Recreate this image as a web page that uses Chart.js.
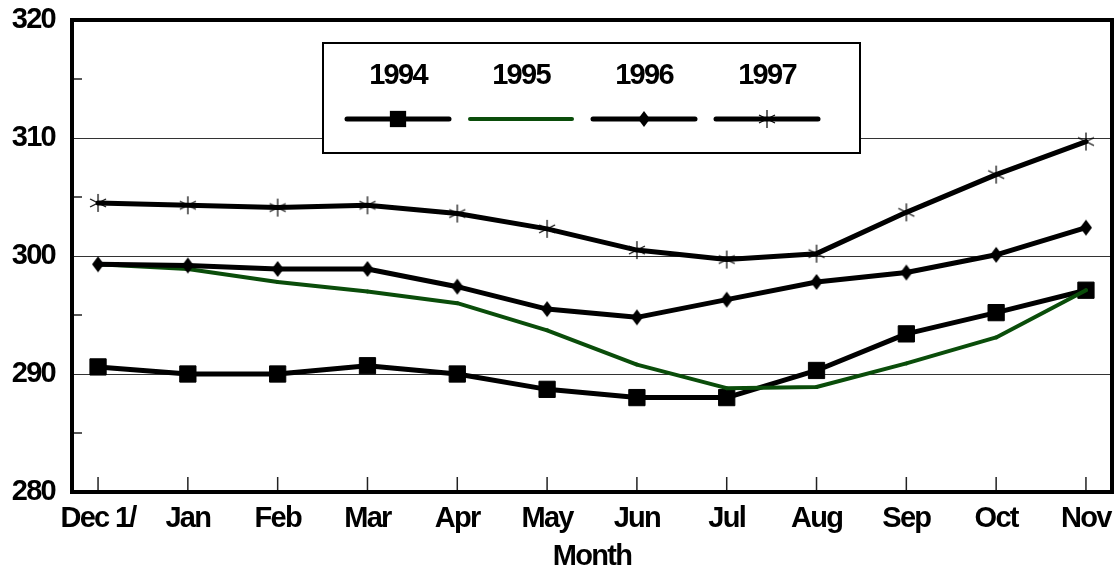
<!DOCTYPE html>
<html>
<head>
<meta charset="utf-8">
<script src="https://cdn.jsdelivr.net/npm/chart.js@4/dist/chart.umd.min.js"></script>
<style>
  html, body { margin: 0; background: #fff; overflow: hidden; }
  canvas { display: block; }
</style>
</head>
<body>
<canvas id="stocksChart" width="1120" height="574"></canvas>
<script>
const months = ["Dec 1/", "Jan", "Feb", "Mar", "Apr", "May", "Jun", "Jul", "Aug", "Sep", "Oct", "Nov"];
const years = ["1994", "1995", "1996", "1997"];
const y1994 = [290.6, 290.0, 290.0, 290.7, 290.0, 288.7, 288.0, 288.0, 290.3, 293.4, 295.2, 297.1];
const y1995 = [299.3, 298.9, 297.8, 297.0, 296.0, 293.7, 290.8, 288.8, 288.9, 290.9, 293.1, 297.1];
const y1996 = [299.3, 299.2, 298.9, 298.9, 297.4, 295.5, 294.8, 296.3, 297.8, 298.6, 300.1, 302.4];
const y1997 = [304.5, 304.3, 304.1, 304.3, 303.6, 302.3, 300.5, 299.7, 300.2, 303.7, 306.9, 309.7];
const yMin = 280, yMax = 320, yLabelStep = 10, yMinorStep = 5;

const GREEN = "#0a4d0a";
const FONT = "'Liberation Sans', Arial, sans-serif";

// marker shapes
function diamondMarker() {
    const c = document.createElement("canvas");
    c.width = 14; c.height = 18;
    const g = c.getContext("2d");
    g.fillStyle = "#000";
    g.beginPath();
    g.moveTo(7, 1); g.lineTo(13, 9); g.lineTo(7, 17); g.lineTo(1, 9);
    g.closePath();
    g.fill();
    return c;
}

function starMarker() {
    const c = document.createElement("canvas");
    c.width = 20; c.height = 20;
    const g = c.getContext("2d");
    g.strokeStyle = "#000";
    g.lineWidth = 1.2;
    g.beginPath();
    g.moveTo(10, 1); g.lineTo(10, 19);
    g.moveTo(2, 6); g.lineTo(18, 14);
    g.moveTo(2, 14); g.lineTo(18, 6);
    g.stroke();
    return c;
}

const diamond = diamondMarker();
const star = starMarker();

function toPoints(arr) {
    return arr.map(function (v, i) { return { x: i, y: v }; });
}

const datasets = [
    { label: years[0], data: toPoints(y1994), borderColor: "#000", borderWidth: 5,
      pointStyle: "rect", pointRadius: 11.5, pointBackgroundColor: "#000", pointBorderColor: "#000", pointBorderWidth: 1, order: 4 },
    { label: years[1], data: toPoints(y1995), borderColor: GREEN, borderWidth: 4,
      pointStyle: "circle", pointRadius: 2, pointBackgroundColor: GREEN, pointBorderColor: GREEN, pointBorderWidth: 0, order: 3 },
    { label: years[2], data: toPoints(y1996), borderColor: "#000", borderWidth: 5,
      pointStyle: diamond, pointRadius: 8, order: 2 },
    { label: years[3], data: toPoints(y1997), borderColor: "#000", borderWidth: 5,
      pointStyle: star, pointRadius: 9, order: 1 }
];

function drawMarker(ctx, ds, x, y) {
    const s = ds.pointStyle;
    if (s instanceof HTMLCanvasElement) {
        ctx.drawImage(s, x - s.width / 2, y - s.height / 2);
    } else if (s === "rect") {
        const h = ds.pointRadius * Math.SQRT1_2;
        ctx.fillStyle = ds.pointBackgroundColor;
        ctx.fillRect(x - h, y - h, 2 * h, 2 * h);
    } else {
        ctx.fillStyle = ds.pointBackgroundColor;
        ctx.beginPath();
        ctx.arc(x, y, ds.pointRadius, 0, Math.PI * 2);
        ctx.fill();
    }
}

/* frame, inner tick marks and the boxed legend */
const decorPlugin = {
    id: "decor",
    beforeDraw(chart) {
        chart.ctx.letterSpacing = "-1.7px";
    },
    beforeDatasetsDraw(chart) {
        const ctx = chart.ctx;
        const a = chart.chartArea;
        const xs = chart.scales.x, ys = chart.scales.y;
        ctx.save();
        ctx.strokeStyle = "#222";
        ctx.lineWidth = 1.5;
        ctx.beginPath();
        xs.ticks.forEach(function (t) {
            const px = xs.getPixelForValue(t.value);
            ctx.moveTo(px, a.bottom);
            ctx.lineTo(px, a.bottom - 15);
        });
        ys.ticks.forEach(function (t) {
            if (t.value % yLabelStep !== 0) {
                const py = ys.getPixelForValue(t.value);
                ctx.moveTo(a.left, py);
                ctx.lineTo(a.left + 10, py);
            }
        });
        ctx.stroke();
        ctx.strokeStyle = "#000";
        ctx.lineWidth = 4;
        ctx.strokeRect(a.left, a.top, a.right - a.left, a.bottom - a.top);
        ctx.restore();
    },
    afterDatasetsDraw(chart) {
        const ctx = chart.ctx;
        const box = { x: 323, y: 43, w: 537, h: 110 };
        ctx.save();
        ctx.fillStyle = "#fff";
        ctx.fillRect(box.x, box.y, box.w, box.h);
        ctx.strokeStyle = "#000";
        ctx.lineWidth = 2;
        ctx.strokeRect(box.x, box.y, box.w, box.h);
        ctx.font = "bold 29px " + FONT;
        ctx.textAlign = "center";
        ctx.textBaseline = "middle";
        chart.data.datasets.forEach(function (ds, i) {
            const cx = 398 + i * 123;
            ctx.fillStyle = "#000";
            ctx.fillText(ds.label, cx, 76);
            ctx.strokeStyle = ds.borderColor;
            ctx.lineWidth = ds.borderWidth;
            ctx.lineCap = "round";
            ctx.beginPath();
            ctx.moveTo(cx - 51, 119);
            ctx.lineTo(cx + 51, 119);
            ctx.stroke();
            drawMarker(ctx, ds, cx, 119);
        });
        ctx.restore();
    }
};

Chart.defaults.font.family = FONT;
Chart.defaults.font.size = 29;
Chart.defaults.font.weight = "bold";
Chart.defaults.color = "#000";

new Chart(document.getElementById("stocksChart"), {
    type: "line",
    data: { datasets: datasets },
    options: {
        responsive: false,
        animation: false,
        devicePixelRatio: 1,
        layout: { autoPadding: false, padding: { top: 20, right: 8, left: 0, bottom: 0 } },
        elements: { line: { tension: 0, borderCapStyle: "round", borderJoinStyle: "round" } },
        plugins: { legend: { display: false }, tooltip: { enabled: false } },
        scales: {
            x: {
                type: "linear",
                min: -0.29,
                max: 11.29,
                afterFit(scale) {
                    scale.height = 82;
                    scale.paddingLeft = 0;
                    scale.paddingRight = 0;
                },
                grid: { drawOnChartArea: false, drawTicks: false },
                border: { display: false },
                ticks: {
                    stepSize: 1,
                    includeBounds: false,
                    autoSkip: false,
                    maxRotation: 0,
                    padding: 10,
                    callback: function (v) { return months[v] !== undefined ? months[v] : ""; }
                },
                title: { display: true, text: "Month", padding: { top: 0, bottom: 0 } }
            },
            y: {
                min: yMin,
                max: yMax,
                afterFit(scale) {
                    scale.width = 72;
                    scale.paddingTop = 0;
                    scale.paddingBottom = 0;
                },
                grid: {
                    drawTicks: false,
                    lineWidth: 1,
                    color: function (c) { return c.tick && c.tick.value % yLabelStep === 0 ? "#333" : "rgba(0,0,0,0)"; }
                },
                border: { display: false },
                ticks: {
                    stepSize: yMinorStep,
                    padding: 17,
                    callback: function (v) { return v % yLabelStep === 0 ? v : ""; }
                }
            }
        }
    },
    plugins: [decorPlugin]
});
</script>
</body>
</html>
